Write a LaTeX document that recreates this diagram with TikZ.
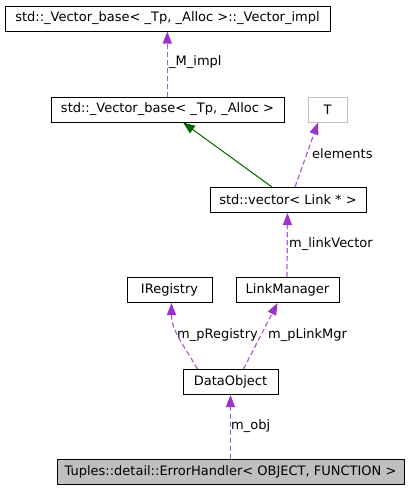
\documentclass[tikz,border=0pt]{standalone}
\usepackage{fontspec}
\setmainfont{DejaVu Sans}
\usetikzlibrary{arrows.meta}
\definecolor{orchid}{HTML}{9A32CD}
\definecolor{inherit}{HTML}{006400}
\definecolor{greybox}{HTML}{BFBFBF}

\begin{document}
\begin{tikzpicture}[x=1pt, y=-1pt,
        every node/.style={font=\fontsize{13}{15}\selectfont, inner sep=0pt},
        cls/.style={draw=black, line width=1pt, minimum height=25pt},
        member/.style={color=orchid!80, line width=1.2pt, dash pattern=on 5pt off 3pt,
                -{Triangle[length=12pt, width=9pt, color=orchid, sep=0pt]}},
        lbl/.style={anchor=west, text=black}]
        \useasboundingbox (0,0) rectangle (409,491);
        \node (impl) [cls, minimum width=325pt] at (167.5,18.5) {std::\_Vector\_base< \_Tp, \_Alloc >::\_Vector\_impl};
        \node (base) [cls, minimum width=233pt] at (167.5,109.5) {std::\_Vector\_base< \_Tp, \_Alloc >};
        \node (T) [cls, draw=greybox, minimum width=39pt] at (327.5,109.5) {T};
        \node (vec) [cls, minimum width=156pt] at (288,200) {std::vector< Link * >};
        \node (reg) [cls, minimum width=85pt] at (169.5,290) {IRegistry};
        \node (lmgr) [cls, minimum width=103pt] at (287.5,290) {LinkManager};
        \node (data) [cls, minimum width=95pt] at (230.5,382) {DataObject};
        \node (err) [cls, fill=greybox, minimum width=347pt] at (230.5,471.5) {Tuples::detail::ErrorHandler< OBJECT, FUNCTION >};

        \node (l0) [lbl] at (169,62) {\_M\_impl};
        \node (l1) [lbl] at (312,154) {elements};
        \node (l2) [lbl] at (289,244) {m\_linkVector};
        \node (l3) [lbl] at (177,335) {m\_pRegistry};
        \node (l4) [lbl] at (268,335) {m\_pLinkMgr};
        \node (l5) [lbl] at (231,426) {m\_obj};

        \draw [member] ([xshift=-0.2pt]base.north) -- ([xshift=-0.2pt]impl.south);
        \draw [inherit, line width=1pt, -{Triangle[length=12pt, width=9pt]}] ([xshift=-16pt]vec.north) -- ([xshift=15.5pt]base.south);
        \draw [member] ([xshift=7pt]vec.north) -- ([xshift=-9.5pt]T.south);
        \draw [member] ([xshift=-0.5pt]lmgr.north) -- ([xshift=-0.5pt]vec.south);
        \draw [member] ([xshift=-33pt]data.north) to [out=120, in=-90] ([xshift=2pt]reg.south);
        \draw [member] ([xshift=13pt]data.north) -- ([xshift=-10pt]lmgr.south);
        \draw [member] (err.north) -- (data.south);
\end{tikzpicture}
\end{document}
